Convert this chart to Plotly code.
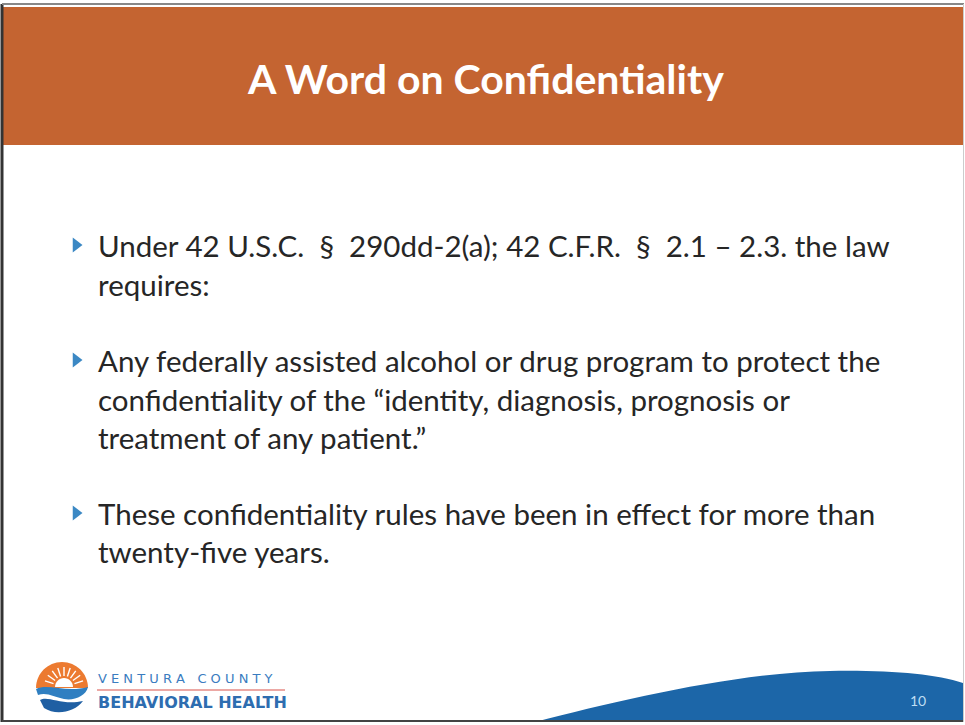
import math
import plotly.graph_objects as go

W, H = 965, 725
title_text = "A Word on Confidentiality"
body_lines = [
    "Under 42 U.S.C.  §  290dd-2(a); 42 C.F.R.  §  2.1 – 2.3. the law",
    "requires:",
    "Any federally assisted alcohol or drug program to protect the",
    "confidentiality of the “identity, diagnosis, prognosis or",
    "treatment of any patient.”",
    "These confidentiality rules have been in effect for more than",
    "twenty-five years.",
]
line_y = [245, 284, 360, 399, 437, 513, 551]
bullet_line_idx = [0, 2, 5]
page_number = "10"
logo_top = "V E N T U R A   C O U N T Y"
logo_bottom = "BEHAVIORAL HEALTH"

ORANGE = "#C46431"
BLUE = "#1C66A8"
TEXT = "#262626"
FONT = "Lato"

fig = go.Figure()

# bullets
fig.add_trace(go.Scatter(
    x=[76] * len(bullet_line_idx),
    y=[line_y[i] for i in bullet_line_idx],
    mode="markers",
    marker=dict(symbol="triangle-right", size=13, color="#3B88C4", line=dict(width=0)),
    hoverinfo="skip", showlegend=False,
))

shapes = []
shapes.append(dict(type="rect", x0=3, x1=963, y0=7, y1=145, fillcolor=ORANGE, line=dict(width=0), layer="below"))
shapes.append(dict(type="path",
                   path="M 535,722 C 620,700 740,672 830,671 C 890,670 935,674 963,683 L 963,722 Z",
                   fillcolor=BLUE, line=dict(width=0), layer="below"))
shapes.append(dict(type="line", x0=2, x1=2, y0=4, y1=722, line=dict(color="#333333", width=3)))
shapes.append(dict(type="line", x0=2, x1=964, y0=4, y1=4, line=dict(color="#888888", width=2)))
shapes.append(dict(type="line", x0=2, x1=964, y0=721, y1=721, line=dict(color="#444444", width=2)))
shapes.append(dict(type="line", x0=963.5, x1=963.5, y0=4, y1=722, line=dict(color="#cccccc", width=1)))


def upper_half(cx, cy, r):
    k = 0.5523 * r
    return (f"M {cx-r},{cy} C {cx-r},{cy-k} {cx-k},{cy-r} {cx},{cy-r} "
            f"C {cx+k},{cy-r} {cx+r},{cy-k} {cx+r},{cy} Z")


cx, cy, r = 62, 688, 26
shapes.append(dict(type="path", path=upper_half(cx, cy, r), fillcolor="#EC7A30", line=dict(width=0)))
shapes.append(dict(type="path", path=upper_half(cx + 2, cy - 1, 9), fillcolor="white", line=dict(width=0)))
for k in range(-4, 5):
    a = math.radians(90 + k * 18)
    shapes.append(dict(type="line",
                       x0=cx + 2 + 11 * math.cos(a), y0=cy - 1 - 11 * math.sin(a),
                       x1=cx + 2 + 20 * math.cos(a), y1=cy - 1 - 20 * math.sin(a),
                       line=dict(color="white", width=1.4)))
# waves
shapes.append(dict(type="path",
                   path=f"M {cx-r},{cy+1} C {cx-14},{cy-5} {cx+4},{cy+5} {cx+r},{cy-1} "
                        f"C {cx+24},{cy+8} {cx+12},{cy+13} {cx+2},{cy+11} "
                        f"C {cx-8},{cy+9} {cx-15},{cy+4} {cx-r+2},{cy+7} Z",
                   fillcolor="#2F7FC1", line=dict(width=0)))
shapes.append(dict(type="path",
                   path=f"M {cx-r+4},{cy+12} C {cx-14},{cy+7} {cx},{cy+18} {cx+21},{cy+13} "
                        f"C {cx+13},{cy+24} {cx-6},{cy+28} {cx-18},{cy+20} Z",
                   fillcolor="#1F5FA3", line=dict(width=0)))
shapes.append(dict(type="line", x0=97, x1=285, y0=690, y1=690, line=dict(color="#D9534A", width=1.2)))

annotations = []
annotations.append(dict(x=485, y=78, text=f"<b>{title_text}</b>", showarrow=False, xanchor="center", yanchor="middle",
                        font=dict(family=FONT, size=41, color="white")))
for t, y in zip(body_lines, line_y):
    annotations.append(dict(x=96, y=y, text=t, showarrow=False, xanchor="left", yanchor="middle",
                            font=dict(family=FONT, size=29.5, color=TEXT)))
annotations.append(dict(x=918, y=700, text=page_number, showarrow=False, xanchor="center", yanchor="middle",
                        font=dict(family=FONT, size=14, color="#BFDDF3")))
annotations.append(dict(x=96, y=678, text=logo_top, showarrow=False, xanchor="left", yanchor="middle",
                        font=dict(family="DejaVu Sans", size=13, color="#3A7CC0")))
annotations.append(dict(x=96, y=702, text=f"<b>{logo_bottom}</b>", showarrow=False, xanchor="left", yanchor="middle",
                        font=dict(family="DejaVu Sans", size=16, color="#2E6DB0")))

fig.update_layout(
    width=W, height=H, margin=dict(l=0, r=0, t=0, b=0),
    paper_bgcolor="white", plot_bgcolor="white",
    xaxis=dict(range=[0, W], visible=False, fixedrange=True),
    yaxis=dict(range=[H, 0], visible=False, fixedrange=True),
    shapes=shapes, annotations=annotations, showlegend=False,
)
fig.write_html("out.html", config={"displayModeBar": False},
               post_script="document.body.style.margin='0px';document.body.style.overflow='hidden';")
